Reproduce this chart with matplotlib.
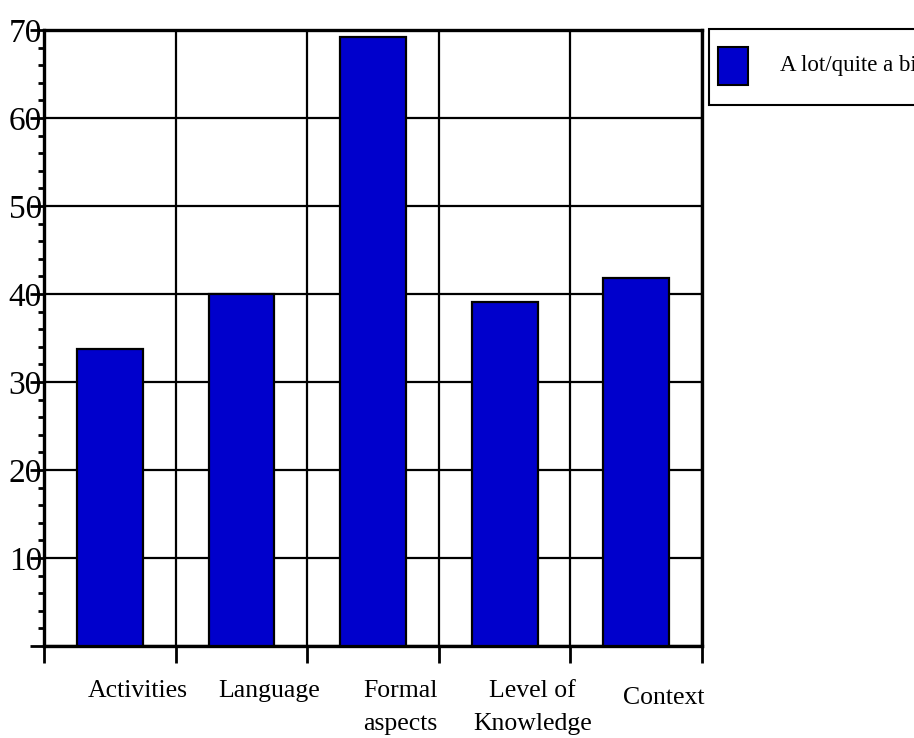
import matplotlib
matplotlib.use("Agg")
import matplotlib.pyplot as plt
from matplotlib.patches import Rectangle
import numpy as np

# 数据
categories = ["Activities", "Language", "Formal\naspects", "Level of\nKnowledge", "Context"]
values = [33.8, 40.0, 69.2, 39.1, 41.8]
series_name = "A lot/quite a bit"
yticks = [10, 20, 30, 40, 50, 60, 70]

plt.rcParams["font.family"] = ["Liberation Serif", "DejaVu Serif"]
BLUE = "#0000CC"

fig = plt.figure(figsize=(9.14, 7.38), dpi=100)
ax = fig.add_axes([44 / 914, 1 - 646 / 738, (702 - 44) / 914, (646 - 30) / 738])

x = np.arange(len(categories)) + 0.5
ax.bar(x, values, width=0.5, color=BLUE, edgecolor="black", linewidth=1.6, zorder=3)

ax.set_xlim(0, len(categories))
ax.set_ylim(0, 70)

# 网格: 横向 10 一格, 纵向在类别边界
ax.set_xticks(np.arange(len(categories) + 1))
ax.set_xticklabels([])
ax.set_yticks([0] + yticks)
ax.set_yticklabels([""] + [str(t) for t in yticks], fontsize=24)
ax.set_yticks(np.arange(0, 70, 2), minor=True)
ax.grid(True, color="black", linewidth=1.6, zorder=0)
ax.set_axisbelow(True)

ax.tick_params(axis="y", which="major", length=10, width=2, direction="out", pad=-8.5)
ax.tick_params(axis="y", which="minor", length=4.5, width=2, direction="out")
ax.tick_params(axis="x", which="major", length=12, width=2, direction="out")
for sp in ax.spines.values():
    sp.set_linewidth(2.4)

# 类别标签(原图略向右偏)
for xi, lab in zip(x, categories):
    ax.text(xi + 0.21, -0.055 if lab != "Context" else -0.067, lab,
            transform=ax.get_xaxis_transform(), ha="center", va="top",
            fontsize=18.5, linespacing=1.65)

# 图例(手工框, 右侧被裁切)
W, H = 914, 738
fig.add_artist(Rectangle((709 / W, 1 - 105 / H), 260 / W, 76 / H, transform=fig.transFigure,
                         facecolor="white", edgecolor="black", linewidth=1.5))
fig.add_artist(Rectangle((718 / W, 1 - 85 / H), 30 / W, 38 / H, transform=fig.transFigure,
                         facecolor=BLUE, edgecolor="black", linewidth=1.5))
fig.text(780 / W, 1 - 66 / H, series_name, fontsize=16.5, va="center", ha="left")

fig.savefig("out.png", dpi=100)
